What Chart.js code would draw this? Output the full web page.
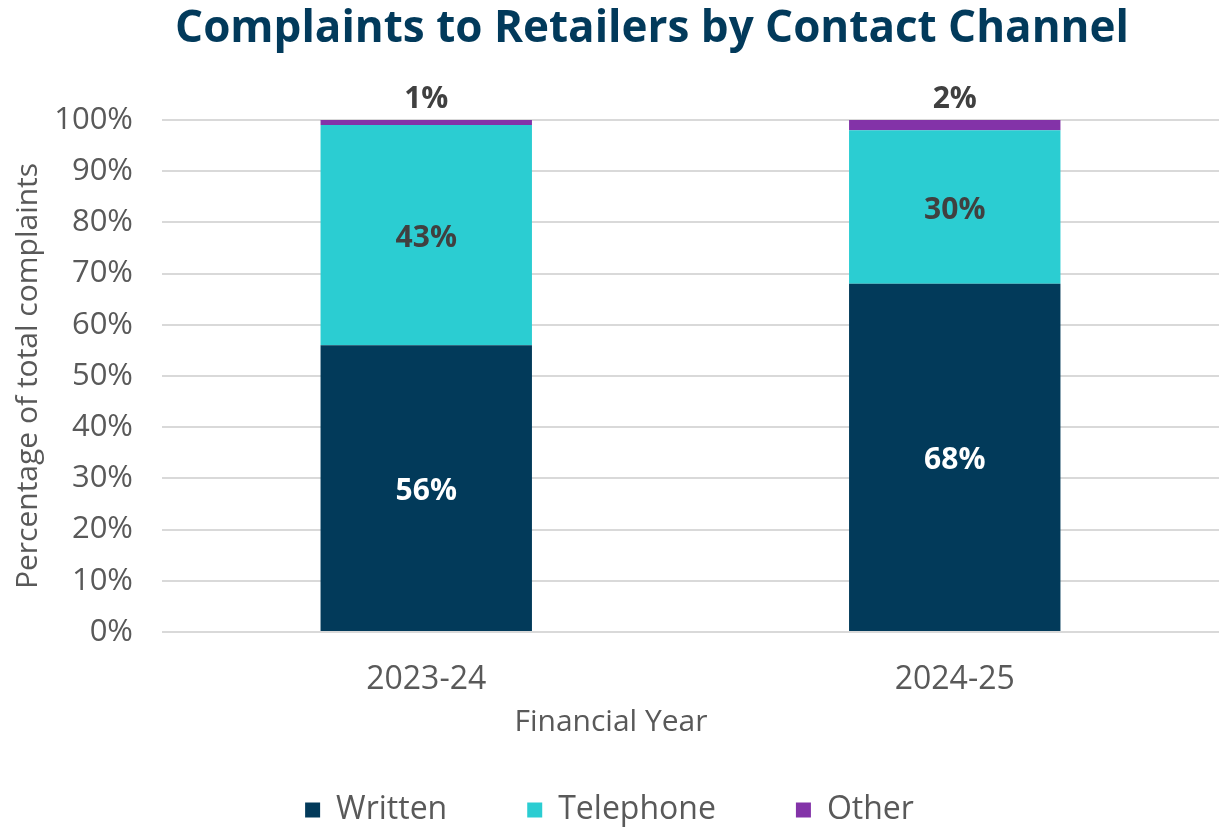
<!DOCTYPE html>
<html>
<head>
<meta charset="utf-8">
<title>Complaints to Retailers by Contact Channel</title>
<script src="https://cdn.jsdelivr.net/npm/chart.js@4/dist/chart.umd.min.js"></script>
<style>
  html, body { margin: 0; padding: 0; background: #fff; }
  #wrap { position: relative; width: 1219px; height: 828px; }
</style>
</head>
<body>
<div id="wrap"><canvas id="chartCanales"></canvas></div>
<script>
const years = ['2023-24', '2024-25'];
const written = [56, 68];
const telephone = [43, 30];
const other = [1, 2];
const yTicks = [0, 10, 20, 30, 40, 50, 60, 70, 80, 90, 100];

const FONT = "'Open Sans', 'Noto Sans', sans-serif";
const GREY = '#595959';

// titulo del grafico y del eje X (centrados sobre el lienzo, no sobre el area)
const captions = {
    id: 'captions',
    afterDraw(chart) {
        const { ctx } = chart;
        ctx.save();
        ctx.textAlign = 'center';
        ctx.textBaseline = 'middle';
        ctx.fillStyle = '#023a5b';
        ctx.font = `bold 44px ${FONT}`;
        ctx.fillText('Complaints to Retailers by Contact Channel', 652, 29);
        ctx.fillStyle = GREY;
        ctx.font = `30px ${FONT}`;
        ctx.fillText('Financial Year', 611, 722);
        ctx.restore();
    }
};

// etiquetas de valor en cada segmento; "Other" va encima de la barra
const valueLabels = {
    id: 'valueLabels',
    afterDatasetsDraw(chart) {
        const { ctx } = chart;
        ctx.save();
        ctx.textAlign = 'center';
        ctx.textBaseline = 'middle';
        ctx.font = `bold 30px ${FONT}`;
        chart.data.datasets.forEach((ds, i) => {
            const meta = chart.getDatasetMeta(i);
            meta.data.forEach((bar, j) => {
                let y = (bar.y + bar.base) / 2 + 3;
                if (i === 2) y = bar.y - 21;
                ctx.fillStyle = i === 0 ? '#ffffff' : '#404040';
                ctx.fillText(ds.data[j] + '%', bar.x, y);
            });
        });
        ctx.restore();
    }
};

// padding grande separa los items; se recorta un poco el alto de la caja
const legendSnug = {
    id: 'legendSnug',
    beforeInit(chart) {
        const lg = chart.legend;
        const fit = lg.fit;
        lg.fit = function () { fit.call(this); this.height -= 8; };
    }
};

new Chart(document.getElementById('chartCanales'), {
    type: 'bar',
    data: {
        labels: years,
        datasets: [
            { label: 'Written', data: written, backgroundColor: '#023a5a' },
            { label: 'Telephone', data: telephone, backgroundColor: '#2bcdd2' },
            { label: 'Other', data: other, backgroundColor: '#8333a8' }
        ]
    },
    options: {
        responsive: true,
        maintainAspectRatio: false,
        animation: false,
        devicePixelRatio: 1,
        datasets: { bar: { barPercentage: 0.4, categoryPercentage: 1.0 } },
        layout: { padding: { top: 120, left: 0, right: 0, bottom: 0 } },
        plugins: {
            title: { display: false },
            tooltip: { enabled: false },
            legend: {
                position: 'bottom',
                labels: {
                    boxWidth: 15,
                    boxHeight: 15,
                    padding: 80,
                    color: GREY,
                    font: { family: FONT, size: 32 }
                }
            }
        },
        scales: {
            x: {
                stacked: true,
                grid: { display: false },
                border: { display: false },
                ticks: { color: GREY, padding: 21, font: { family: FONT, size: 32 } },
                afterFit(scale) { scale.height = 82; }
            },
            y: {
                stacked: true,
                min: 0,
                max: 100,
                afterBuildTicks(scale) { scale.ticks = yTicks.map(v => ({ value: v })); },
                grid: { color: '#d9d9d9', lineWidth: 2, drawTicks: false },
                border: { display: false },
                ticks: {
                    color: GREY,
                    padding: 29,
                    font: { family: FONT, size: 31 },
                    callback: v => v + '%'
                },
                title: {
                    display: true,
                    text: 'Percentage of total complaints',
                    color: GREY,
                    font: { family: FONT, size: 30 },
                    padding: { top: 10, bottom: 0 }
                },
                afterFit(scale) { scale.width = 162; }
            }
        }
    },
    plugins: [captions, valueLabels, legendSnug]
});
</script>
</body>
</html>
